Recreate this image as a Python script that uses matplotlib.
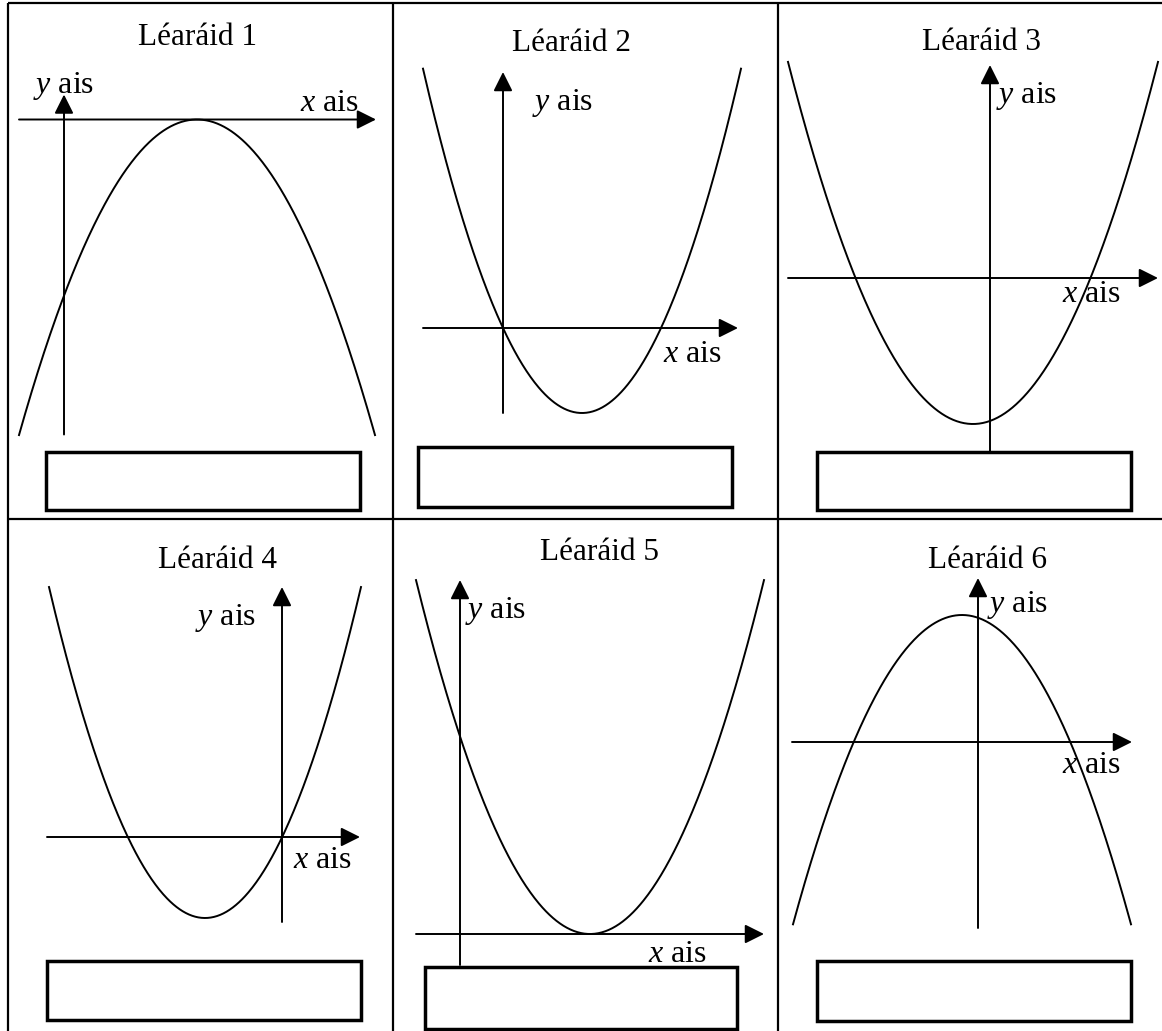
import numpy as np
import matplotlib
matplotlib.use("Agg")
import matplotlib.pyplot as plt
from matplotlib.patches import Rectangle

plt.rcParams['font.family'] = ['Liberation Serif', 'DejaVu Serif']
plt.rcParams['mathtext.fontset'] = 'custom'
plt.rcParams['mathtext.rm'] = 'Liberation Serif'
plt.rcParams['mathtext.it'] = 'Liberation Serif:italic'

# Teidil na léaráidí
titles = ["Léaráid 1", "Léaráid 2", "Léaráid 3", "Léaráid 4", "Léaráid 5", "Léaráid 6"]

# Parabóil y = a(x - h)^2 + k, aonaid = picteilíní, bunphointe ag crosaire na n-ais
para_a = [-0.00996, 0.01362, 0.01058, 0.0136, 0.01169, -0.01083]
para_h = [133, 79, -17, -77, 130, -16]
para_k = [0, -85, -146, -81, 0, 127]
curve_x0 = [-45, -80, -202, -233, -44, -185]
curve_x1 = [311, 238, 168, 79, 304, 153]

# raon na n-ais (x: ó chlé go rinn, y: ó bhun go rinn)
xaxis_from = [-45, -80, -202, -235, -44, -186]
xaxis_to = [312, 235, 168, 78, 304, 154]
yaxis_from = [-315, -85, -174, -85, -31, -186]
yaxis_to = [25, 256, 213, 250, 354, 164]

# leagan amach (picteilíní, y anuas)
origin_px = [(64, 119.5), (503, 328), (990, 278), (282, 837), (460, 934), (978, 742)]
title_pos = [(197, 45), (571, 51), (982, 50), (217, 568), (599, 560), (987, 568)]
ylab_pos = [(33, 93), (532, 110), (996, 103), (195, 625), (465, 618), (987, 612)]
xlab_pos = [(300, 111), (663, 362), (1062, 302), (293, 868), (648, 962), (1062, 773)]
boxes = [(46, 452, 360, 510), (418, 447, 732, 507), (817, 452, 1131, 510),
         (47, 961, 361, 1020), (425, 967, 737, 1029), (817, 961, 1131, 1021)]

W, H = 1162, 1031
fig = plt.figure(figsize=(W / 100, H / 100), dpi=100)
ax = fig.add_axes([0, 0, 1, 1])
ax.set_xlim(0, W)
ax.set_ylim(H, 0)
ax.axis('off')

# línte an tábla
grid_kw = dict(color='black', lw=1.6, solid_capstyle='butt')
ax.plot([8, W], [3, 3], **grid_kw)
ax.plot([8, W], [519, 519], **grid_kw)
for gx in [8, 393, 778]:
    ax.plot([gx, gx], [3, H], **grid_kw)

arrow_kw = dict(arrowstyle='-|>,head_length=0.4,head_width=0.2', mutation_scale=29,
                color='black', lw=1.4, shrinkA=0, shrinkB=0)

for i in range(6):
    ox, oy = origin_px[i]
    # parabóil
    xs = np.linspace(curve_x0[i], curve_x1[i], 400)
    ys = para_a[i] * (xs - para_h[i]) ** 2 + para_k[i]
    ax.plot(ox + xs, oy - ys, color='black', lw=1.4)

    # aiseanna le saigheada
    ax.annotate('', xy=(ox + xaxis_to[i], oy), xytext=(ox + xaxis_from[i], oy),
                arrowprops=arrow_kw)
    ax.annotate('', xy=(ox, oy - yaxis_to[i]), xytext=(ox, oy - yaxis_from[i]),
                arrowprops=arrow_kw)

    # téacs
    ax.text(title_pos[i][0], title_pos[i][1], titles[i], fontsize=22.5,
            ha='center', va='baseline')
    ax.text(ylab_pos[i][0], ylab_pos[i][1], r'$y$ ais', fontsize=23,
            ha='left', va='baseline')
    ax.text(xlab_pos[i][0], xlab_pos[i][1], r'$x$ ais', fontsize=23,
            ha='left', va='baseline')

    # boscaí freagra
    bx0, by0, bx1, by1 = boxes[i]
    ax.add_patch(Rectangle((bx0, by0), bx1 - bx0, by1 - by0, fill=False,
                           edgecolor='black', lw=2.5))

fig.savefig('out.png', dpi=100)
